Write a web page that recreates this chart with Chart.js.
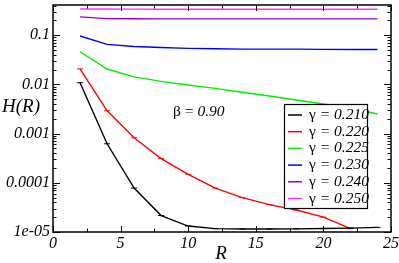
<!DOCTYPE html>
<html>
<head>
<meta charset="utf-8">
<script src="https://cdn.jsdelivr.net/npm/chart.js@4/dist/chart.umd.min.js"></script>
<style>
  html, body { margin: 0; padding: 0; background: #fff; }
  #wrap { width: 399px; height: 263px; }
</style>
</head>
<body>
<div id="wrap"><canvas id="chartH"></canvas></div>
<script>
"use strict";

var R_VALUES = [2, 4, 6, 8, 10, 12, 14, 16, 18, 20, 22, 24];
var GAMMA_LABELS = ["γ = 0.210", "γ = 0.220", "γ = 0.225", "γ = 0.230", "γ = 0.240", "γ = 0.250"];
var H_0210 = [0.0108, 0.00062, 7.8e-5, 2.16e-5, 1.32e-5, 1.17e-5, 1.15e-5, 1.15e-5, 1.16e-5, 1.18e-5, 1.2e-5, 1.24e-5];
var H_0220 = [0.0206, 0.0029, 0.00082, 0.00031, 0.000149, 7.8e-5, 5.0e-5, 3.6e-5, 2.8e-5, 2.0e-5, 1.17e-5];
var H_0225 = [0.046, 0.0205, 0.0142, 0.0115, 0.0097, 0.0083, 0.0069, 0.0058, 0.0048, 0.0040, 0.0033, 0.0025];
var H_0230 = [0.096, 0.065, 0.059, 0.056, 0.054, 0.053, 0.052, 0.052, 0.052, 0.0515, 0.0512, 0.051];
var H_0240 = [0.235, 0.217, 0.215, 0.214, 0.214, 0.214, 0.214, 0.214, 0.214, 0.214, 0.214, 0.214];
var H_0250 = [0.34, 0.34, 0.338, 0.337, 0.337, 0.336, 0.336, 0.336, 0.335, 0.335, 0.335, 0.335];
var X_TICKS = [0, 5, 10, 15, 20, 25];
var Y_TICKS = [1e-5, 1e-4, 1e-3, 1e-2, 1e-1];

var COLORS = ["#000000", "#ff0000", "#00ee00", "#0000ff", "#9400d3", "#ff33ff"];
var SERIES = [H_0210, H_0220, H_0225, H_0230, H_0240, H_0250];
var FONT = "'Liberation Serif', 'Times New Roman', serif";

function pts(values) {
  return values.map(function (v, i) { return { x: R_VALUES[i], y: v }; });
}

var datasets = SERIES.map(function (s, i) {
  return {
    label: GAMMA_LABELS[i],
    data: pts(s),
    borderColor: COLORS[i],
    backgroundColor: COLORS[i],
    borderWidth: 1.4,
    pointStyle: "line",
    pointRadius: i < 2 ? 3 : 0,
    pointBorderWidth: 1,
    tension: 0,
    fill: false
  };
});

// frame, inward ticks on all four sides, labels and legend box
var decorPlugin = {
  id: "decor",
  afterDraw: function (chart) {
    var ctx = chart.ctx;
    var a = chart.chartArea;
    var xs = chart.scales.x, ys = chart.scales.y;
    ctx.save();
    ctx.strokeStyle = "#000";
    ctx.lineWidth = 1.5;
    ctx.strokeRect(a.left, a.top, a.right - a.left, a.bottom - a.top);

    ctx.lineWidth = 1;
    ctx.beginPath();
    for (var xv = 0; xv <= 25; xv += 2.5) {
      var px = Math.round(xs.getPixelForValue(xv)) + 0.5;
      var len = (xv % 5 === 0) ? 6 : 3.5;
      ctx.moveTo(px, a.bottom); ctx.lineTo(px, a.bottom - len);
      ctx.moveTo(px, a.top); ctx.lineTo(px, a.top + len);
    }
    for (var d = -5; d <= -1; d++) {
      for (var m = 1; m <= 9; m++) {
        var v = m * Math.pow(10, d);
        if (v > ys.max) continue;
        var py = Math.round(ys.getPixelForValue(v)) + 0.5;
        var l = (m === 1) ? 7 : 3.5;
        ctx.moveTo(a.left, py); ctx.lineTo(a.left + l, py);
        ctx.moveTo(a.right, py); ctx.lineTo(a.right - l, py);
      }
    }
    ctx.stroke();

    ctx.fillStyle = "#000";
    ctx.textBaseline = "middle";
    ctx.textAlign = "left";
    ctx.font = "italic 19px " + FONT;
    ctx.fillText("H(R)", 2, 107);
    ctx.textAlign = "center";
    ctx.fillText("R", 221, 254);

    ctx.textAlign = "left";
    ctx.font = "15.5px " + FONT;
    ctx.fillText("β = ", 173, 112);
    var bw = ctx.measureText("β = ").width;
    ctx.font = "italic 15.5px " + FONT;
    ctx.fillText("0.90", 173 + bw, 112);

    // legend box
    var lx = 284, ly = 104, lw = 83, lh = 104;
    ctx.fillStyle = "#fff";
    ctx.fillRect(lx, ly, lw, lh);
    ctx.strokeStyle = "#000";
    ctx.lineWidth = 1.2;
    ctx.strokeRect(lx + 0.5, ly + 0.5, lw, lh);
    chart.data.datasets.forEach(function (ds, i) {
      var cy = ly + 11 + i * 16.7;
      ctx.strokeStyle = ds.borderColor;
      ctx.lineWidth = 1.5;
      ctx.beginPath();
      ctx.moveTo(288, cy); ctx.lineTo(302, cy);
      ctx.stroke();
      ctx.fillStyle = "#000";
      ctx.font = "15.5px " + FONT;
      var g = ds.label.slice(0, 1);
      ctx.fillText(g, 309, cy);
      var gw = ctx.measureText(g).width;
      ctx.font = "italic 15.5px " + FONT;
      ctx.fillText(ds.label.slice(1), 309 + gw, cy);
    });
    ctx.restore();
  }
};

function build() {
  new Chart(document.getElementById("chartH"), {
    type: "line",
    data: { datasets: datasets },
    plugins: [decorPlugin],
    options: {
      responsive: true,
      maintainAspectRatio: false,
      animation: false,
      layout: { padding: { top: 2, right: 8, left: 0, bottom: 0 } },
      plugins: { legend: { display: false }, tooltip: { enabled: false } },
      scales: {
        x: {
          type: "linear", min: 0, max: 25,
          afterFit: function (s) { s.height = 31; s.paddingLeft = 0; s.paddingRight = 0; },
          afterBuildTicks: function (s) { s.ticks = X_TICKS.map(function (v) { return { value: v }; }); },
          grid: { display: false, drawTicks: false, tickLength: 0 },
          border: { display: false },
          ticks: { color: "#000", padding: 2, maxRotation: 0, font: { family: FONT, size: 16, style: "italic" } }
        },
        y: {
          type: "logarithmic", min: 1e-5, max: 0.41,
          afterFit: function (s) { s.width = 53; s.paddingTop = 0; s.paddingBottom = 0; },
          afterBuildTicks: function (s) { s.ticks = Y_TICKS.map(function (v) { return { value: v }; }); },
          grid: { display: false, drawTicks: false, tickLength: 0 },
          border: { display: false },
          ticks: {
            color: "#000", padding: 3,
            font: { family: FONT, size: 16, style: "italic" },
            callback: function (v) { return v === 1e-5 ? "1e-05" : String(v); }
          }
        }
      }
    }
  });
}

Promise.all([
  document.fonts.load("italic 16px 'Liberation Serif'"),
  document.fonts.load("16px 'Liberation Serif'")
]).then(build, build);
</script>
</body>
</html>
